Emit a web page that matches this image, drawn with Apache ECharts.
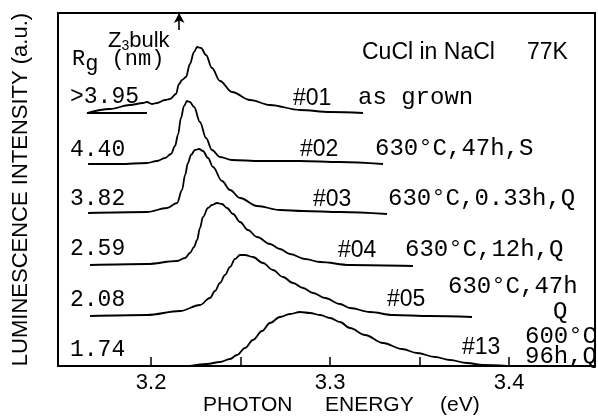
<!DOCTYPE html>
<html>
<head>
<meta charset="utf-8">
<script src="https://cdn.jsdelivr.net/npm/echarts@6/dist/echarts.min.js"></script>
<style>html,body{margin:0;padding:0;background:#fff;}#c{width:598px;height:419px;}</style>
</head>
<body>
<div id="c"></div>
<script>
// Photon energy (eV) and luminescence intensity (a.u., with vertical offsets as drawn)
var e01 = [3.1642,3.1770,3.1882,3.1955,3.1977,3.2005,3.2033,3.2078,3.2106,3.2139,3.2156,3.2173,3.2195,3.2217,3.2240,3.2257,3.2279,3.2307,3.2340,3.2385,3.2452,3.2553,3.2664,3.2832,3.3000,3.3184];
var i01 = [253,257,261,263,264,262,263,266,267,272,282,286,289,302,314,319,318,311,298,285,274,266,261,256,254,253];
var base01E = [3.1642,3.1977];
var base01I = [253,253];

var e02 = [3.1648,3.1826,3.1977,3.2033,3.2078,3.2111,3.2134,3.2150,3.2167,3.2184,3.2201,3.2217,3.2240,3.2273,3.2307,3.2340,3.2385,3.2452,3.2609,3.2832,3.3055,3.3296];
var i02 = [202,202,203,205,208,212,220,231,248,260,265,264,259,244,228,216,209,206,205,205,204,202];

var e03 = [3.1648,3.1977,3.2089,3.2145,3.2173,3.2190,3.2206,3.2223,3.2245,3.2268,3.2290,3.2318,3.2346,3.2396,3.2441,3.2497,3.2592,3.2720,3.2849,3.3055,3.3318];
var i03 = [153,154,158,163,176,191,203,211,216,217,215,208,199,185,176,168,160,156,155,154,152];

var e04 = [3.1659,3.1977,3.2145,3.2190,3.2217,3.2240,3.2257,3.2273,3.2290,3.2318,3.2340,3.2368,3.2396,3.2424,3.2458,3.2497,3.2541,3.2592,3.2664,3.2720,3.2776,3.2860,3.2944,3.3111,3.3463];
var i04 = [101,102,105,108,113,119,126,138,149,158,161,163,162,158,152,144,136,129,122,117,112,107,104,101,100];

var e05 = [3.1659,3.1977,3.2162,3.2273,3.2329,3.2357,3.2385,3.2413,3.2441,3.2469,3.2497,3.2525,3.2569,3.2625,3.2681,3.2737,3.2793,3.2849,3.2905,3.2972,3.3055,3.3111,3.3223,3.3352,3.3558,3.3793];
var i05 = [50,51,55,61,68,75,83,91,99,107,111,111,109,103,96,89,83,78,73,68,62,58,54,51,50,49];

var e13 = [3.2217,3.2312,3.2385,3.2441,3.2480,3.2525,3.2569,3.2620,3.2664,3.2720,3.2776,3.2832,3.2888,3.2944,3.3000,3.3055,3.3111,3.3195,3.3296,3.3402,3.3486,3.3587,3.3670,3.3765,3.3854,3.3989];
var i13 = [0,2,4,7,11,18,26,35,43,49,52,54,53,51,48,44,38,31,23,17,13,9,6,3,1,0];

var z3bulk = 3.2157;
var arrowI = [336,353];

var xTicks = [3.2,3.25,3.3,3.35,3.4];
var xLabels = [3.2,3.3,3.4];
var rgLabels = ['>3.95','4.40','3.82','2.59','2.08','1.74'];
var sampleIds = ['#01','#02','#03','#04','#05','#13'];

function pairs(xs, ys){ return xs.map(function(x,k){ return [x, ys[k]]; }); }

var chart = echarts.init(document.getElementById('c'), null, {renderer:'canvas'});
var lineStyle = {color:'#000', width:1.8};
function curve(name, xs, ys, smooth){
  return {type:'line', name:name, data:pairs(xs,ys), showSymbol:false, symbol:'none',
    smooth:smooth, smoothMonotone:'x', lineStyle:lineStyle, silent:true, animation:false};
}
var series = [
  curve('#01', e01, i01, 0.35),
  curve('base01', base01E, base01I, false),
  curve('#02', e02, i02, 0.35),
  curve('#03', e03, i03, 0.35),
  curve('#04', e04, i04, 0.35),
  curve('#05', e05, i05, 0.35),
  curve('#13', e13, i13, 0.35)
];
series[0].markLine = {
  silent:true, animation:false, symbol:['none','arrow'], symbolSize:[8,10],
  label:{show:false}, lineStyle:{color:'#000', width:1.6, type:'solid'},
  data:[[{coord:[z3bulk, arrowI[0]]},{coord:[z3bulk, arrowI[1]]}]]
};

var mono = '"Liberation Mono", "DejaVu Sans Mono", monospace';
var sans = '"Liberation Sans", Arial, sans-serif';
function txt(x, y, s, font, size){
  return {type:'text', left:x, top:y, style:{text:s, fontFamily:font, fontSize:size, fill:'#000'}};
}
var rgY = [97,150,199,249,300,350];
var graphics = [];
rgLabels.forEach(function(s,k){ graphics.push(txt(70, rgY[k]-12, s, mono, 23)); });
var idPos = [[293,99],[300,150],[313,200],[338,251],[387,300],[462,348]];
sampleIds.forEach(function(s,k){ graphics.push(txt(idPos[k][0], idPos[k][1]-12, s, sans, 23)); });
graphics.push(txt(358, 99-13, 'as grown', mono, 24));
graphics.push(txt(375, 150-13, '630°C,47h,S', mono, 24));
graphics.push(txt(388, 200-13, '630°C,0.33h,Q', mono, 24));
graphics.push(txt(405, 251-13, '630°C,12h,Q', mono, 24));
graphics.push(txt(448, 288-13, '630°C,47h', mono, 24));
graphics.push(txt(553, 313-13, 'Q', mono, 24));
graphics.push(txt(525, 338-13, '600°C', mono, 24));
graphics.push(txt(525, 358-13, '96h,Q', mono, 24));
graphics.push(txt(362, 54-13, 'CuCl in NaCl', sans, 23));
graphics.push(txt(527, 54-13, '77K', sans, 23));
graphics.push({type:'text', left:72, top:48, style:{
  text:'{a|R}{b|g}{a| (nm)}', fill:'#000',
  rich:{a:{fontFamily:mono, fontSize:22, fill:'#000'}, b:{fontFamily:mono, fontSize:22, fill:'#000', padding:[10,0,0,0]}}
}});
graphics.push({type:'text', left:108, top:30, style:{
  text:'{a|Z}{b|3}{a|bulk}', fill:'#000',
  rich:{a:{fontFamily:sans, fontSize:22, fill:'#000'}, b:{fontFamily:sans, fontSize:14, fill:'#000', padding:[10,0,0,0]}}
}});
graphics.push(txt(203, 407-12, 'PHOTON', sans, 21));
graphics.push(txt(325, 407-12, 'ENERGY', sans, 21));
graphics.push(txt(440, 407-12, '(eV)', sans, 21));

chart.setOption({
  animation:false,
  backgroundColor:'#fff',
  grid:{left:58, top:13, right:3, bottom:53, show:true, borderColor:'#000', borderWidth:2},
  xAxis:{type:'value', min:3.148, max:3.448,
    axisLine:{show:true, onZero:false, lineStyle:{color:'#000', width:2}},
    axisTick:{show:true, inside:true, length:9, lineStyle:{color:'#000', width:1.5}, customValues:xTicks},
    axisLabel:{show:true, customValues:xLabels, color:'#000', fontSize:22, fontFamily:sans, margin:6,
      formatter:function(v){ return String(Math.round(v*10)/10); }},
    splitLine:{show:false}
  },
  yAxis:{type:'value', min:0, max:353,
    name:'LUMINESCENCE INTENSITY (a.u.)', nameLocation:'middle', nameRotate:90, nameGap:26,
    nameTextStyle:{color:'#000', fontSize:22, fontFamily:sans},
    axisLine:{show:true, lineStyle:{color:'#000', width:2}},
    axisTick:{show:false}, axisLabel:{show:false}, splitLine:{show:false}
  },
  series:series,
  graphic:graphics
});
</script>
</body>
</html>
